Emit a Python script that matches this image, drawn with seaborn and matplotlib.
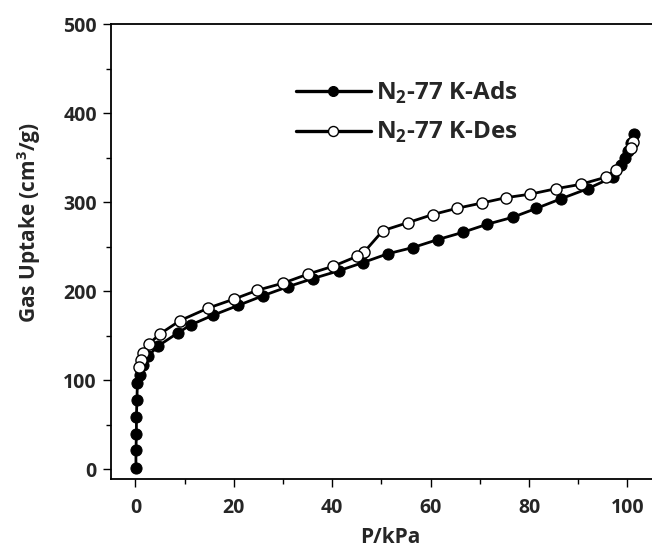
import matplotlib
matplotlib.use("Agg")
import matplotlib.pyplot as plt
import seaborn as sns
import pandas as pd

# N2 isotherm at 77 K: adsorption branch
ads_p = [0.1, 0.1, 0.2, 0.2, 0.3, 0.4, 0.9, 1.6, 2.6, 4.5, 8.6, 11.2, 15.8, 20.9,
         26.0, 31.0, 36.0, 41.4, 46.2, 51.3, 56.4, 61.5, 66.5, 71.4, 76.7, 81.5,
         86.6, 91.9, 97.0, 98.8, 99.6, 100.2, 100.7, 101.4]
ads_q = [1, 21, 40, 59, 78, 97, 106, 117, 127, 138, 153, 162, 173, 184,
         195, 205, 214, 223, 232, 242, 249, 258, 266, 275, 283, 293,
         304, 315, 328, 342, 350, 358, 366, 376]

# desorption branch
des_p = [101.2, 100.7, 97.6, 95.6, 90.5, 85.4, 80.3, 75.3, 70.4, 65.3, 60.4,
         55.4, 50.3, 46.5, 45.0, 40.2, 35.0, 30.0, 24.8, 20.0, 14.8, 9.1, 5.0,
         2.8, 1.6, 1.2, 0.8]
des_q = [367, 361, 336, 328, 320, 315, 309, 305, 299, 293, 286,
         277, 268, 244, 239, 228, 219, 209, 201, 191, 181, 167, 152,
         141, 130, 123, 115]

x_ticks = [0, 20, 40, 60, 80, 100]
y_ticks = [0, 100, 200, 300, 400, 500]

ads = pd.DataFrame({"P": ads_p, "Q": ads_q})
des = pd.DataFrame({"P": des_p, "Q": des_q})

sns.set_style("ticks")
plt.rcParams["font.family"] = ["Open Sans", "DejaVu Sans"]
plt.rcParams["font.weight"] = "bold"
plt.rcParams["mathtext.fontset"] = "custom"
plt.rcParams["mathtext.rm"] = "Open Sans:bold"
plt.rcParams["mathtext.bf"] = "Open Sans:bold"

fig = plt.figure(figsize=(6.52, 5.48), dpi=100)
ax = fig.add_axes([0.170, 0.126, 0.830, 0.830])

sns.lineplot(data=ads, x="P", y="Q", sort=False, estimator=None, ax=ax,
             color="black", linewidth=2.0, marker="o", markersize=8,
             markerfacecolor="black", markeredgecolor="black",
             label="N$_2$-77 K-Ads")
sns.lineplot(data=des, x="P", y="Q", sort=False, estimator=None, ax=ax,
             color="black", linewidth=2.0, marker="o", markersize=8,
             markerfacecolor="white", markeredgecolor="black",
             markeredgewidth=1.0, label="N$_2$-77 K-Des")

ax.set_xlim(-5, 105)
ax.set_ylim(-11, 500)
ax.set_xticks(x_ticks)
ax.set_yticks(y_ticks)
ax.set_xticks(range(10, 101, 20), minor=True)
ax.set_yticks(range(50, 500, 100), minor=True)
ax.tick_params(axis="both", which="major", direction="out", length=6,
               width=1.0, labelsize=14, color="black")
ax.tick_params(axis="x", which="major", pad=8)
ax.tick_params(axis="y", which="major", pad=4)
ax.tick_params(axis="both", which="minor", direction="out", length=3.5,
               width=1.0, color="black")
for lab in ax.get_xticklabels() + ax.get_yticklabels():
    lab.set_fontweight("bold")

ax.set_xlabel("P/kPa", fontsize=15, fontweight="bold")
ax.xaxis.set_label_coords(0.516, -0.105)
ax.set_ylabel("Gas Uptake (cm$^3$/g)", fontsize=15, fontweight="bold")
ax.yaxis.set_label_coords(-0.125, 0.563)

for side in ["left", "bottom", "top"]:
    ax.spines[side].set_visible(True)
    ax.spines[side].set_color("black")
    ax.spines[side].set_linewidth(1.3)
ax.spines["right"].set_visible(False)

leg = ax.legend(loc="upper left", bbox_to_anchor=(0.42, 0.895),
                bbox_transform=fig.transFigure, frameon=False, fontsize=17.5,
                handlelength=3.1, markerscale=0.9, labelspacing=0.6,
                handletextpad=0.2)
for t in leg.get_texts():
    t.set_fontweight("bold")
for h in leg.get_lines():
    h.set_linewidth(2.4)

fig.savefig("out.png", dpi=100)
